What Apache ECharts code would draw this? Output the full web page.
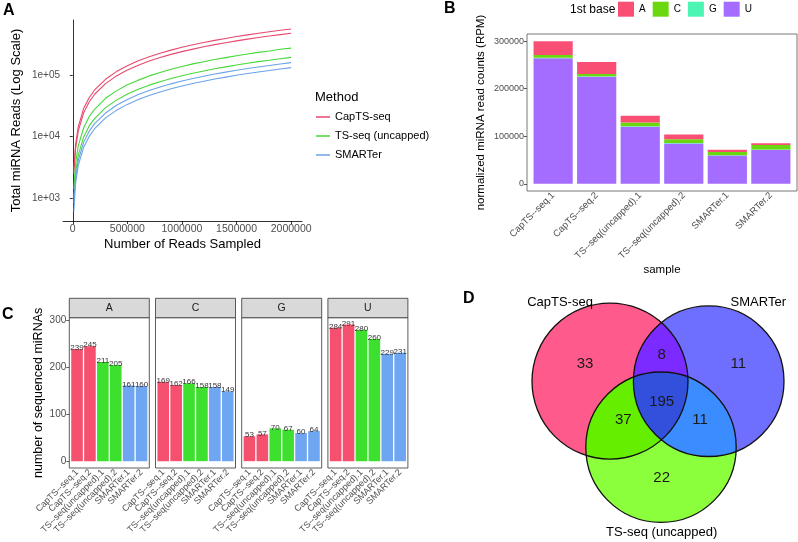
<!DOCTYPE html>
<html><head><meta charset="utf-8">
<script src="https://cdn.jsdelivr.net/npm/echarts@6/dist/echarts.min.js"></script>
<style>html,body{margin:0;padding:0;background:#fff}#c{width:798px;height:542px}</style>
</head><body><div id="c"></div>
<script>
// ---------- Panel A: rarefaction ----------
const sampledReads = [10000, 25000, 50000, 100000, 150000, 200000, 300000, 400000, 500000, 600000, 700000, 800000, 900000, 1000000, 1100000, 1200000, 1300000, 1400000, 1500000, 1600000, 1700000, 1800000, 1900000, 2000000];
const capts1 = [2900, 7300, 14500, 29100, 43400, 58200, 87000, 116300, 145000, 174500, 203000, 232500, 261000, 290500, 319000, 348000, 377500, 406000, 435500, 464000, 493000, 522500, 551000, 580000];
const capts2 = [2500, 6200, 12300, 24700, 37000, 49500, 74000, 98900, 123500, 148200, 173000, 197500, 222400, 247000, 271500, 296500, 321000, 345800, 370500, 395000, 420000, 444500, 469000, 494000];
const tsseq1 = [1400, 3500, 7100, 14000, 21300, 28100, 42500, 56200, 70800, 84300, 98900, 112500, 127200, 140800, 155400, 168900, 183600, 197100, 211800, 225300, 240100, 253500, 269800, 282000];
const tsseq2 = [1000, 2500, 4950, 9900, 15000, 19800, 29900, 39700, 49900, 59600, 69800, 79400, 89700, 99300, 109600, 119200, 129500, 139000, 149400, 158900, 169300, 178800, 189200, 199000];
const smarter2 = [820, 2040, 4080, 8150, 12200, 16350, 24400, 32700, 40700, 48950, 57000, 65300, 73300, 81500, 89700, 97700, 106000, 114000, 122300, 130300, 138600, 146600, 155000, 163000];
const smarter1 = [600, 1690, 3370, 6750, 10100, 13500, 20300, 27000, 33800, 40500, 47300, 54000, 60800, 67500, 74300, 81000, 87800, 94500, 101300, 108000, 114800, 121500, 128300, 135000];
const methods = ['CapTS-seq', 'TS-seq (uncapped)', 'SMARTer'];
const xTicksA = [0, 500000, 1000000, 1500000, 2000000];
const yTicksA = [1000, 10000, 100000];

// ---------- Panel B: stacked RPM by first base ----------
const samples = ['CapTS--seq.1', 'CapTS--seq.2', 'TS--seq(uncapped).1', 'TS--seq(uncapped).2', 'SMARTer.1', 'SMARTer.2'];
const rpmU = [264000, 225000, 120000, 85000, 59500, 71000];
const rpmG = [1000, 1000, 1200, 1000, 800, 1000];
const rpmC = [6000, 5000, 7800, 8000, 6700, 9500];
const rpmA = [29000, 25000, 14000, 10000, 4500, 4000];
const yTicksB = [0, 100000, 200000, 300000];

// ---------- Panel C: sequenced miRNAs per first base ----------
const bases = ['A', 'C', 'G', 'U'];
const countsA = [239, 245, 211, 205, 161, 160];
const countsC = [169, 162, 166, 158, 158, 149];
const countsG = [53, 57, 70, 67, 60, 64];
const countsU = [284, 291, 280, 260, 229, 231];
const yTicksC = [0, 100, 200, 300];

// ---------- Panel D: Venn ----------
const vennSetNames = ['CapTS-seq', 'SMARTer', 'TS-seq (uncapped)'];
const vennRegionSets = [[0], [1], [2], [0, 1], [0, 2], [1, 2], [0, 1, 2]];
const vennRegionCounts = [33, 11, 22, 8, 37, 11, 195];

// ---------- styling / layout ----------
const FONT = "'Liberation Sans', Arial, Helvetica, sans-serif";
const LAB = '#4D4D4D';
const lineColors = {'CapTS-seq': '#E8496E', 'TS-seq (uncapped)': '#46D838', 'SMARTer': '#6BA3E6'};
const baseColors = {A: '#F94F74', C: '#6BD80F', G: '#4DF5B4', U: '#A46CFF'};
const methodBarColors = ['#F5506E', '#3EE02F', '#6FA6F2'];
const vennColors = ['#FF5A8C', '#6E6EFF', '#8CFF3C', '#7B2BFF', '#66EE00', '#3A8CFF', '#3250DC'];
const vennGeom = {
  circles: [{cx: 90, cy: 91.2, r: 78}, {cx: 188.7, cy: 91.2, r: 75.3}, {cx: 141, cy: 157.2, r: 75.2}],
  labelPos: [[65, 74], [218.3, 74], [141.7, 188.3], [141.7, 65], [103.3, 130], [180, 130], [141.7, 111.7]],
  setLabelPos: [[40, 12.5], [238.3, 12.5], [141.7, 242.5]]
};

const grids = [], xAxes = [], yAxes = [], series = [], graphics = [];
function txt(s, x, y, size, opts) {
  return {type: 'text', x: x, y: y, style: Object.assign({text: s, font: (opts && opts.bold ? 'bold ' : '') + size + 'px ' + FONT, fill: '#000', align: 'left', verticalAlign: 'middle'}, opts && opts.style)};
}

// ----- Panel A -----
grids.push({left: 63, top: 20, width: 239, height: 201});
xAxes.push({gridIndex: 0, type: 'value', min: -89500, max: 2099500,
  axisLine: {lineStyle: {color: '#000', width: 0.8}},
  axisTick: {customValues: xTicksA, length: 3, lineStyle: {color: '#000', width: 0.8}},
  axisLabel: {customValues: xTicksA, formatter: v => String(v), fontSize: 10.5, color: LAB, margin: 3, fontFamily: FONT},
  splitLine: {show: false},
  name: 'Number of Reads Sampled', nameLocation: 'middle', nameGap: 17,
  nameTextStyle: {fontSize: 13, color: '#000', fontFamily: FONT}});
yAxes.push({gridIndex: 0, type: 'log', logBase: 10, min: 417, max: 813000,
  axisLine: {show: true, lineStyle: {color: '#000', width: 0.8}},
  axisTick: {customValues: yTicksA, length: 3, lineStyle: {color: '#000', width: 0.8}},
  axisLabel: {customValues: yTicksA, formatter: v => '1e+0' + Math.round(Math.log10(v)), fontSize: 10, color: LAB, margin: 3, fontFamily: FONT},
  splitLine: {show: false}, minorTick: {show: false},
  name: 'Total miRNA Reads (Log Scale)', nameLocation: 'middle', nameGap: 40,
  nameTextStyle: {fontSize: 13, color: '#000', fontFamily: FONT}});
[[methods[0], capts1], [methods[0], capts2], [methods[1], tsseq1], [methods[1], tsseq2], [methods[2], smarter2], [methods[2], smarter1]].forEach(([m, arr]) => {
  series.push({type: 'line', name: m, xAxisIndex: 0, yAxisIndex: 0, showSymbol: false, symbol: 'none',
    data: sampledReads.map((x, i) => [x, arr[i]]),
    lineStyle: {width: 1.1, color: lineColors[m]}, itemStyle: {color: lineColors[m]}, silent: true});
});
graphics.push(txt('Method', 315, 97, 13));

// ----- Panel B -----
const bL = 527, bT = 34, bW = 270, bH = 157;
grids.push({left: bL, top: bT, width: bW, height: bH, show: true, borderColor: '#555', borderWidth: 0.8});
xAxes.push({gridIndex: 1, type: 'value', show: false, min: 0, max: 1});
yAxes.push({gridIndex: 1, type: 'value', min: -15000, max: 315000,
  axisLine: {show: false},
  axisTick: {show: true, customValues: yTicksB, length: 3, lineStyle: {color: '#333', width: 0.8}},
  axisLabel: {customValues: yTicksB, formatter: v => String(v), fontSize: 9, color: LAB, margin: 3, fontFamily: FONT},
  splitLine: {show: false},
  name: 'normalized miRNA read counts (RPM)', nameLocation: 'middle', nameGap: 40,
  nameTextStyle: {fontSize: 11.5, color: '#000', fontFamily: FONT}});
grids.push({left: bL + bW * 0.1 / 6.2, top: bT, width: bW * 6 / 6.2, height: bH});
xAxes.push({gridIndex: 2, type: 'category', data: samples,
  axisLine: {show: false},
  axisTick: {alignWithLabel: true, length: 3, lineStyle: {color: '#333', width: 0.8}},
  axisLabel: {rotate: 45, interval: 0, fontSize: 9.5, color: LAB, margin: 3, fontFamily: FONT},
  name: 'sample', nameLocation: 'middle', nameGap: 70,
  nameTextStyle: {fontSize: 11.5, color: '#000', fontFamily: FONT}});
yAxes.push({gridIndex: 2, type: 'value', show: false, min: -15000, max: 315000, splitLine: {show: false}});
[['U', rpmU], ['G', rpmG], ['C', rpmC], ['A', rpmA]].forEach(([b, arr]) => {
  series.push({type: 'bar', name: b, xAxisIndex: 2, yAxisIndex: 2, stack: 'rpm', barWidth: '90%',
    data: arr, itemStyle: {color: baseColors[b]}, silent: true});
});
graphics.push(txt('1st base', 570, 9.5, 12));

// ----- Panel C -----
const cLeft0 = 69.3, cStep = 86.2, cW = 80, cTop = 317.7, cH = 150.3, stripTop = 298.3;
const countsByBase = [countsA, countsC, countsG, countsU];
for (let f = 0; f < 4; f++) {
  const left = cLeft0 + f * cStep;
  const gi = grids.length;
  grids.push({left: left, top: cTop, width: cW, height: cH, show: true, borderColor: '#333', borderWidth: 0.8});
  xAxes.push({gridIndex: gi, type: 'value', show: false, min: 0, max: 1});
  if (f === 0) {
    yAxes.push({gridIndex: gi, type: 'value', min: -14.55, max: 305.55,
      axisLine: {show: false},
      axisTick: {show: true, customValues: yTicksC, length: 3, lineStyle: {color: '#333', width: 0.8}},
      axisLabel: {customValues: yTicksC, fontSize: 10, color: LAB, margin: 3, fontFamily: FONT},
      splitLine: {show: false},
      name: 'number of sequenced miRNAs', nameLocation: 'middle', nameGap: 24,
      nameTextStyle: {fontSize: 12.5, color: '#000', fontFamily: FONT}});
  } else {
    yAxes.push({gridIndex: gi, type: 'value', show: false, min: -14.55, max: 305.55, splitLine: {show: false}});
  }
  graphics.push({type: 'rect', shape: {x: left, y: stripTop, width: cW, height: cTop - stripTop},
    style: {fill: '#D9D9D9', stroke: '#333', lineWidth: 0.8}});
  graphics.push(txt(bases[f], left + cW / 2, (stripTop + cTop) / 2 + 0.5, 10.5, {style: {align: 'center', fill: '#1A1A1A'}}));
}
for (let f = 0; f < 4; f++) {
  const left = cLeft0 + f * cStep;
  const gi = grids.length;
  grids.push({left: left + cW * 0.1 / 6.2, top: cTop, width: cW * 6 / 6.2, height: cH});
  xAxes.push({gridIndex: gi, type: 'category', data: samples,
    axisLine: {show: false},
    axisTick: {alignWithLabel: true, length: 3, lineStyle: {color: '#333', width: 0.8}},
    axisLabel: {rotate: 45, interval: 0, fontSize: 9, color: LAB, margin: 3, fontFamily: FONT}});
  yAxes.push({gridIndex: gi, type: 'value', show: false, min: -14.55, max: 305.55, splitLine: {show: false}});
  series.push({type: 'bar', name: 'count_' + bases[f], xAxisIndex: gi, yAxisIndex: gi, barWidth: '90%', silent: true,
    data: countsByBase[f].map((v, i) => ({value: v, itemStyle: {color: methodBarColors[Math.floor(i / 2)]}})),
    label: {show: true, position: 'top', distance: -3, fontSize: 8, color: '#333', fontFamily: FONT}});
}

// ----- Panel D: Venn -----
const vg = grids.length;
grids.push({left: 520, top: 290, width: 278, height: 252});
xAxes.push({gridIndex: vg, type: 'value', show: false, min: 0, max: 278});
yAxes.push({gridIndex: vg, type: 'value', show: false, min: 0, max: 252, inverse: true});

function pxCircles(api) {
  return vennGeom.circles.map(c => {
    const p = api.coord([c.cx, c.cy]);
    const s = api.size([c.r, c.r]);
    return {x: p[0], y: p[1], r: s[0]};
  });
}
function regionPolygon(circ, set) {
  const N = 720, pts = [];
  set.forEach(i => {
    const c = circ[i];
    for (let k = 0; k < N; k++) {
      const t = 2 * Math.PI * k / N;
      const x = c.x + c.r * Math.cos(t), y = c.y + c.r * Math.sin(t);
      let inside = true;
      set.forEach(j => {
        if (j !== i) {
          const d = Math.hypot(x - circ[j].x, y - circ[j].y);
          if (d > circ[j].r + 0.01) inside = false;
        }
      });
      if (inside) pts.push([x, y]);
    }
  });
  let mx = 0, my = 0;
  pts.forEach(p => { mx += p[0]; my += p[1]; });
  mx /= pts.length; my /= pts.length;
  pts.sort((a, b) => Math.atan2(a[1] - my, a[0] - mx) - Math.atan2(b[1] - my, b[0] - mx));
  return pts;
}
series.push({type: 'custom', name: 'vennFill', coordinateSystem: 'cartesian2d', xAxisIndex: vg, yAxisIndex: vg, z: 2, silent: true,
  data: vennRegionCounts.map((v, i) => [i, v]),
  renderItem: function (params, api) {
    const i = params.dataIndex;
    const circ = pxCircles(api);
    const pts = regionPolygon(circ, vennRegionSets[i]);
    return {type: 'polygon', shape: {points: pts}, style: {fill: vennColors[i], stroke: null}};
  }});
series.push({type: 'custom', name: 'vennLine', coordinateSystem: 'cartesian2d', xAxisIndex: vg, yAxisIndex: vg, z: 3, silent: true,
  data: vennSetNames.map((s, i) => [i, 0]),
  renderItem: function (params, api) {
    const c = pxCircles(api)[params.dataIndex];
    return {type: 'circle', shape: {cx: c.x, cy: c.y, r: c.r}, style: {fill: null, stroke: '#111', lineWidth: 1.3}};
  }});
series.push({type: 'custom', name: 'vennCounts', coordinateSystem: 'cartesian2d', xAxisIndex: vg, yAxisIndex: vg, z: 4, silent: true,
  data: vennRegionCounts.map((v, i) => [i, v]),
  renderItem: function (params, api) {
    const i = params.dataIndex;
    const p = api.coord(vennGeom.labelPos[i]);
    return {type: 'text', x: p[0], y: p[1], style: {text: String(api.value(1)), font: '15px ' + FONT, fill: '#1A1A1A', align: 'center', verticalAlign: 'middle'}};
  }});
series.push({type: 'custom', name: 'vennSets', coordinateSystem: 'cartesian2d', xAxisIndex: vg, yAxisIndex: vg, z: 4, silent: true,
  data: vennSetNames.map((s, i) => [i, 0]),
  renderItem: function (params, api) {
    const i = params.dataIndex;
    const p = api.coord(vennGeom.setLabelPos[i]);
    return {type: 'text', x: p[0], y: p[1], style: {text: vennSetNames[i], font: '13px ' + FONT, fill: '#000', align: 'center', verticalAlign: 'middle'}};
  }});

// panel letters
graphics.push(txt('A', 3, 11, 16, {bold: true}));
graphics.push(txt('B', 444, 9, 16, {bold: true}));
graphics.push(txt('C', 2, 315, 16, {bold: true}));
graphics.push(txt('D', 463, 299, 16, {bold: true}));

const chart = echarts.init(document.getElementById('c'), null, {renderer: 'canvas', width: 798, height: 542});
chart.setOption({
  animation: false,
  backgroundColor: '#fff',
  textStyle: {fontFamily: FONT},
  grid: grids, xAxis: xAxes, yAxis: yAxes, series: series,
  legend: [
    {data: methods, orient: 'vertical', left: 316, top: 110, padding: 0, icon: 'rect', itemWidth: 14, itemHeight: 1.5, itemGap: 5,
      selectedMode: false, textStyle: {fontSize: 11, color: '#000', fontFamily: FONT, lineHeight: 14}},
    {data: ['A', 'C', 'G', 'U'], orient: 'horizontal', left: 618, top: 1.7, padding: 0, icon: 'rect', itemWidth: 16, itemHeight: 15, itemGap: 7,
      selectedMode: false, textStyle: {fontSize: 10, color: '#000', fontFamily: FONT}}
  ],
  graphic: graphics
});
</script>
</body></html>
